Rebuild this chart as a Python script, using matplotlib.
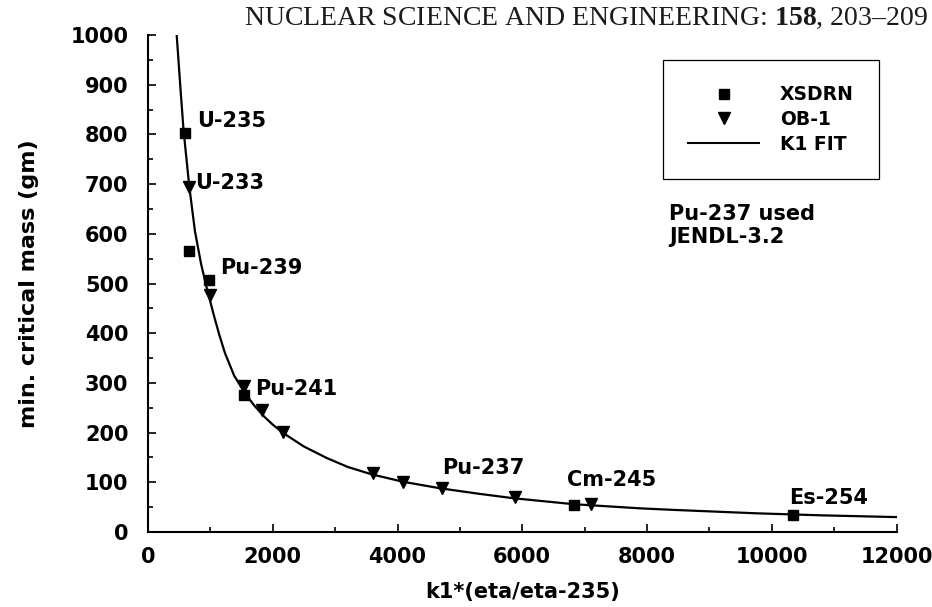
import matplotlib
matplotlib.use("Agg")
import matplotlib.pyplot as plt
from matplotlib.lines import Line2D
from matplotlib.ticker import MultipleLocator

plt.rcParams["mathtext.fontset"] = "custom"
plt.rcParams["mathtext.rm"] = "Liberation Serif"
plt.rcParams["mathtext.bf"] = "Liberation Serif:bold"

# XSDRN results: x = k1*(eta/eta-235), y = minimum critical mass (gm)
xsdrn_x = [595, 662, 983, 1544, 6829, 10335]
xsdrn_y = [802, 566, 507, 276, 54, 34]

# OB-1 results
ob1_x = [662, 994, 1544, 1822, 2170, 3612, 4093, 4708, 5883, 7097]
ob1_y = [695, 477, 293, 245, 202, 118, 101, 88, 71, 56]

# K1 fit curve
fit_x = [460, 520, 566, 593, 662, 753, 850, 930, 1047, 1140, 1234, 1380,
         1539, 1700, 1864, 2000, 2170, 2500, 2864, 3200, 3586, 4093, 4681,
         5300, 5857, 6819, 7887, 8422, 9758, 10800, 12000]
fit_y = [1000, 893, 815, 780, 695, 605, 540, 497, 440, 398, 360, 315,
         282, 255, 232, 216, 199, 172, 149, 131, 116, 101, 88,
         77, 68, 56, 47.6, 44.5, 37.6, 33.5, 30]

# Nuclide labels and their anchor positions
nuclide_labels = ["U-235", "U-233", "Pu-239", "Pu-241", "Pu-237", "Cm-245", "Es-254"]
label_x = [781, 753, 1154, 1715, 4708, 6712, 10281]
label_y = [826, 702, 531, 288, 129, 105, 68]

x_ticks = [0, 2000, 4000, 6000, 8000, 10000, 12000]
y_ticks = [0, 100, 200, 300, 400, 500, 600, 700, 800, 900, 1000]

W, H = 932, 607
fig = plt.figure(figsize=(W / 100, H / 100), dpi=100)
ax = fig.add_axes([148 / W, 75 / H, 748.5 / W, 497 / H])

bold = dict(family="DejaVu Sans", weight="bold")

ax.plot(fit_x, fit_y, color="black", lw=1.6, zorder=2)
ax.plot(xsdrn_x, xsdrn_y, ls="none", marker="s", ms=7.5, color="black", zorder=3)
ax.plot(ob1_x, ob1_y, ls="none", marker="v", ms=8.5, color="black", zorder=3)

for name, lx, ly in zip(nuclide_labels, label_x, label_y):
    ax.text(lx, ly, name, ha="left", va="center", fontsize=15, **bold)

ax.text(8352, 617, "Pu-237 used\nJENDL-3.2", ha="left", va="center",
        fontsize=15, linespacing=1.15, **bold)

ax.set_xlim(0, 12000)
ax.set_ylim(0, 1000)
ax.set_xticks(x_ticks)
ax.set_yticks(y_ticks)
ax.xaxis.set_minor_locator(MultipleLocator(1000))
ax.yaxis.set_minor_locator(MultipleLocator(50))
for side in ("top", "right"):
    ax.spines[side].set_visible(False)
for side in ("left", "bottom"):
    ax.spines[side].set_linewidth(1.5)

ax.tick_params(which="both", direction="in", width=1.2)
ax.tick_params(which="major", length=6)
ax.tick_params(which="minor", length=3.5)
ax.tick_params(axis="y", which="major", pad=14)
ax.tick_params(axis="x", which="major", pad=11)
for lab in ax.get_xticklabels() + ax.get_yticklabels():
    lab.set_fontsize(15)
    lab.set_fontweight("bold")
    lab.set_family("DejaVu Sans")

ax.set_xlabel("k1*(eta/eta-235)", fontsize=15, **bold)
ax.set_ylabel("min. critical mass (gm)", fontsize=16, **bold)
ax.xaxis.set_label_coords(0.5, -0.100)
ax.yaxis.set_label_coords(-0.145, 0.5)

handles = [
    Line2D([], [], ls="none", marker="s", ms=6.5, color="black"),
    Line2D([], [], ls="none", marker="v", ms=8, color="black"),
    Line2D([], [], color="black", lw=1.5),
]
leg = ax.legend(handles, ["XSDRN", "OB-1", "K1 FIT"], loc="upper left",
                bbox_to_anchor=(0.6876, 0.9497), borderaxespad=0,
                prop=dict(family="DejaVu Sans", weight="bold", size=13.5),
                handlelength=3.8, handletextpad=1.1, labelspacing=0.3,
                borderpad=1.35, fancybox=False, framealpha=1, numpoints=1)
leg.get_frame().set_edgecolor("black")
leg.get_frame().set_linewidth(0.9)

fig.text(928 / W, 1 - 18 / H,
         r"NUCLEAR SCIENCE AND ENGINEERING: $\mathbf{158}$, 203–209",
         ha="right", va="center", fontsize=20, family="Liberation Serif",
         color="#1a1a1a")

fig.savefig("out.png", dpi=100)
